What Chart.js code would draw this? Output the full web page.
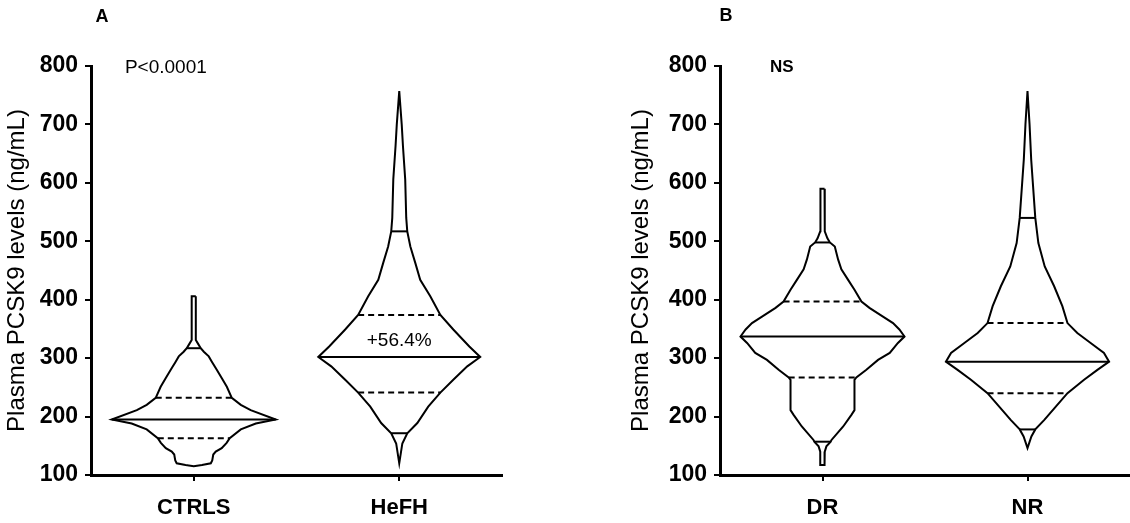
<!DOCTYPE html>
<html>
<head>
<meta charset="utf-8">
<script src="https://cdn.jsdelivr.net/npm/chart.js@4.4.1/dist/chart.umd.min.js"></script>
<style>
  html, body { margin: 0; padding: 0; background: #fff; }
  #wrap { position: relative; width: 1130px; height: 523px; overflow: hidden; }
  canvas { position: absolute; top: 0; }
  #panelA { left: 0; }
  #panelB { left: 624px; }
</style>
</head>
<body>
<div id="wrap">
  <canvas id="panelA" width="565" height="523"></canvas>
  <canvas id="panelB" width="506" height="523"></canvas>
</div>
<script>
//Categories and axis
const groupsA = ['CTRLS', 'HeFH'];
const groupsB = ['DR', 'NR'];
const yTicks = [100, 200, 300, 400, 500, 600, 700, 800];
const yTitle = 'Plasma PCSK9 levels (ng/mL)';

//Violin outlines: level (ng/mL) and half-width of the density (category units)
const ctrlsLevels = [406, 331, 324, 317, 311, 303, 294, 280, 266, 251, 232, 220, 211, 195, 188, 178, 163, 155, 146, 140, 135, 125, 120, 117, 115];
const ctrlsWidths = [0.010, 0.010, 0.022, 0.034, 0.049, 0.073, 0.088, 0.112, 0.136, 0.161, 0.185, 0.229, 0.277, 0.399, 0.302, 0.229, 0.175, 0.160, 0.136, 0.107, 0.095, 0.090, 0.083, 0.040, 0];
const hefhLevels = [757, 700, 663, 606, 540, 517, 491, 463, 434, 406, 374, 349, 320, 302, 286, 263, 241, 217, 189, 171.5, 154, 120];
const hefhWidths = [0, 0.012, 0.018, 0.029, 0.034, 0.039, 0.054, 0.078, 0.102, 0.151, 0.200, 0.263, 0.341, 0.394, 0.331, 0.263, 0.200, 0.141, 0.088, 0.039, 0.015, 0];
const drLevels = [590, 517, 505, 498, 491, 469, 452, 434, 417, 397, 386, 371, 360, 349, 337, 326, 309, 297, 280, 267, 263, 211, 203, 183, 160, 157, 149, 140, 117];
const drWidths = [0.010, 0.011, 0.024, 0.036, 0.060, 0.076, 0.092, 0.125, 0.156, 0.190, 0.229, 0.295, 0.344, 0.375, 0.400, 0.368, 0.328, 0.271, 0.214, 0.165, 0.156, 0.156, 0.141, 0.101, 0.044, 0.040, 0.019, 0.011, 0.010];
const nrLevels = [757, 700, 640, 600, 540, 497, 457, 423, 389, 360, 343, 326, 309, 294, 280, 263, 240, 217, 194, 178, 166, 146];
const nrWidths = [0, 0.010, 0.018, 0.026, 0.038, 0.053, 0.084, 0.130, 0.170, 0.195, 0.243, 0.308, 0.373, 0.398, 0.341, 0.276, 0.195, 0.138, 0.081, 0.038, 0.019, 0];

//Summary lines across each violin (solid: median and tails, dashed: quartiles)
const ctrlsSolid = [317, 195];
const ctrlsSolidW = [0.034, 0.399];
const ctrlsDashed = [232, 163];
const ctrlsDashedW = [0.185, 0.175];
const hefhSolid = [517, 302, 171.5];
const hefhSolidW = [0.039, 0.394, 0.039];
const hefhDashed = [374, 241];
const hefhDashedW = [0.200, 0.200];
const drSolid = [498, 337, 157];
const drSolidW = [0.036, 0.400, 0.040];
const drDashed = [397, 267];
const drDashedW = [0.190, 0.165];
const nrSolid = [540, 294, 178];
const nrSolidW = [0.038, 0.398, 0.038];
const nrDashed = [360, 240];
const nrDashedW = [0.195, 0.195];

//Texts
const statA = 'P<0.0001';
const statB = 'NS';
const changeHeFH = '+56.4%';

//Style
const fontFamily = 'Arial, "Liberation Sans", Helvetica, sans-serif';
const lineWidth = 2;
const axisWidth = 3;
const dash = [6, 4];

//Helper Functions
const violinOutline = function (center, levels, widths) {
    const right = levels.map((v, i) => ({x: center + widths[i], y: v}));
    const left = levels.map((v, i) => ({x: center - widths[i], y: v})).reverse();
    return {
        data: right.concat(left, [right[0]]),
        borderColor: 'black',
        borderWidth: lineWidth,
        showLine: true,
        pointRadius: 0,
        fill: false,
    };
};
const levelLines = function (center, levels, widths, dashed) {
    return levels.map((v, i) => ({
        data: [{x: center - widths[i], y: v}, {x: center + widths[i], y: v}],
        borderColor: 'black',
        borderWidth: lineWidth,
        borderDash: dashed ? dash : [],
        showLine: true,
        pointRadius: 0,
        fill: false,
    }));
};

//Panel letter and annotations
const panelText = {
    id: 'panelText',
    afterDraw(chart, args, options) {
        const {ctx, scales: {x, y}} = chart;
        ctx.save();
        ctx.fillStyle = 'black';
        ctx.textBaseline = 'middle';
        ctx.textAlign = 'center';
        ctx.font = 'bold 18px ' + fontFamily;
        ctx.fillText(options.letter, options.letterX, options.letterY);
        options.notes.forEach(n => {
            ctx.font = n.font + ' ' + fontFamily;
            ctx.textAlign = n.align;
            ctx.fillText(n.text, x.getPixelForValue(n.x), y.getPixelForValue(n.y));
        });
        ctx.restore();
    }
};

const makeChart = function (canvasId, groups, datasets, yWidth, padding, textOptions) {
    const gridStyle = {drawOnChartArea: false, drawTicks: true, tickLength: 6, color: 'black', lineWidth: lineWidth};
    const borderStyle = {display: true, color: 'black', width: axisWidth};
    return new Chart(document.getElementById(canvasId), {
        type: 'scatter',
        data: {datasets: datasets},
        plugins: [panelText],
        options: {
            responsive: false,
            animation: false,
            layout: {padding: padding},
            plugins: {
                legend: {display: false},
                tooltip: {enabled: false},
                panelText: textOptions,
            },
            scales: {
                x: {
                    type: 'linear',
                    min: 0.5,
                    max: 2.5,
                    afterBuildTicks: s => { s.ticks = groups.map((g, i) => ({value: i + 1})); },
                    afterFit: s => { s.height = 48; },
                    ticks: {
                        color: 'black',
                        font: {family: fontFamily, size: 22, weight: 'bold'},
                        padding: 14,
                        maxRotation: 0,
                        autoSkip: false,
                        callback: v => groups[v - 1],
                    },
                    grid: gridStyle,
                    border: borderStyle,
                },
                y: {
                    min: 100,
                    max: 800,
                    afterBuildTicks: s => { s.ticks = yTicks.map(v => ({value: v})); },
                    afterFit: s => { s.width = yWidth; },
                    ticks: {color: 'black', font: {family: fontFamily, size: 23, weight: 'bold'}, padding: 7},
                    grid: gridStyle,
                    border: borderStyle,
                    title: {
                        display: true,
                        text: yTitle,
                        color: 'black',
                        font: {family: fontFamily, size: 24},
                        padding: {top: 3, bottom: 0},
                    },
                },
            },
        },
    });
};

const datasetsA = [
    violinOutline(1, ctrlsLevels, ctrlsWidths),
    violinOutline(2, hefhLevels, hefhWidths),
    ...levelLines(1, ctrlsSolid, ctrlsSolidW, false),
    ...levelLines(1, ctrlsDashed, ctrlsDashedW, true),
    ...levelLines(2, hefhSolid, hefhSolidW, false),
    ...levelLines(2, hefhDashed, hefhDashedW, true),
];
const datasetsB = [
    violinOutline(1, drLevels, drWidths),
    violinOutline(2, nrLevels, nrWidths),
    ...levelLines(1, drSolid, drSolidW, false),
    ...levelLines(1, drDashed, drDashedW, true),
    ...levelLines(2, nrSolid, nrSolidW, false),
    ...levelLines(2, nrDashed, nrDashedW, true),
];

makeChart('panelA', groupsA, datasetsA, 91, {top: 66, left: 0, right: 63, bottom: 0}, {
    letter: 'A', letterX: 102, letterY: 17,
    notes: [
        {text: statA, x: 0.665, y: 797, align: 'left', font: 'normal 19px'},
        {text: changeHeFH, x: 2, y: 329, align: 'center', font: 'normal 19px'},
    ],
});
makeChart('panelB', groupsB, datasetsB, 96, {top: 66, left: 0, right: 0, bottom: 0}, {
    letter: 'B', letterX: 102, letterY: 16,
    notes: [
        {text: statB, x: 0.744, y: 798, align: 'left', font: 'bold 17px'},
    ],
});
</script>
</body>
</html>
